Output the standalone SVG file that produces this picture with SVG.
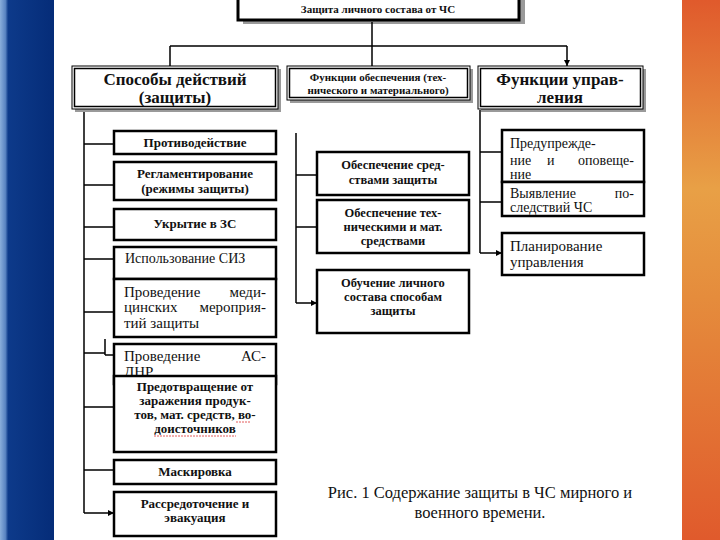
<svg xmlns="http://www.w3.org/2000/svg" width="720" height="540" viewBox="0 0 720 540">
<defs>
<linearGradient id="blue" x1="0" y1="0" x2="1" y2="0">
<stop offset="0" stop-color="#8aaedb"/><stop offset="0.1" stop-color="#5a84c2"/><stop offset="0.15" stop-color="#0d3a8a"/><stop offset="1" stop-color="#052c78"/>
</linearGradient>
<linearGradient id="orange" x1="0" y1="0" x2="0" y2="1">
<stop offset="0" stop-color="#e05a2c"/><stop offset="0.35" stop-color="#e8a046"/><stop offset="0.55" stop-color="#e58c3c"/><stop offset="1" stop-color="#e05a2c"/>
</linearGradient>
<marker id="ar" viewBox="0 0 8 8" refX="8" refY="4" markerWidth="6" markerHeight="6" orient="auto" markerUnits="userSpaceOnUse">
<path d="M0 0 L8 4 L0 8 Z" fill="#000"/>
</marker>
</defs>
<style>
.b{fill:#fff;stroke:#000;stroke-width:2.5}
.sh{fill:#9a9a9a}
.c{fill:none;stroke:#000;stroke-width:1.5}
text{font-family:'Liberation Serif','DejaVu Serif',serif;fill:#111}
.tb{font-weight:bold;font-size:13px;text-anchor:middle}
.tm{font-weight:bold;font-size:12.5px;text-anchor:middle}
.tn{font-size:15px}
.te{font-size:15px;text-anchor:end}
.tr{font-size:14px}
.tre{font-size:14px;text-anchor:end}
.th{font-weight:bold;font-size:17px;text-anchor:middle}
</style>
<rect width="720" height="540" fill="#fff"/>
<rect x="0" y="0" width="54" height="540" fill="url(#blue)"/>
<rect x="682" y="0" width="38" height="540" fill="url(#orange)"/>

<g id="top">
<rect class="sh" x="243" y="-6" width="282" height="30"/>
<rect x="238" y="-10" width="281" height="30" fill="#fff" stroke="#000" stroke-width="3"/>
<text class="tb" x="378" y="13" style="font-size:11px">Защита личного состава от ЧС</text>
</g>

<g id="connectors">
<path class="c" d="M372 22 V46 M170 46 H567 M84 110 V513 M296 133 V303 M480 110 V253"/>
<path class="c" marker-end="url(#ar)" d="M170 46 V66 M372 46 V66 M567 46 V66"/>
<path class="c" marker-end="url(#ar)" d="M84 144 H114 M84 185 H114 M84 227 H114 M84 259 H114 M84 312 H114 M105 355 H114 M84 407 H114 M84 470 H114 M84 513 H114"/>
<path class="c" d="M84 353 H105 M105 339 V355"/>
<path class="c" marker-end="url(#ar)" d="M296 175 H317 M296 227 H317 M296 303 H317"/>
<path class="c" marker-end="url(#ar)" d="M480 152 H502 M480 202 H502 M480 253 H502"/>
</g>

<g id="h1">
<rect class="sh" x="75" y="69" width="206" height="43"/>
<rect x="72" y="66" width="206" height="43" fill="#fff" stroke="#000" stroke-width="1"/>
<rect x="74.5" y="68.5" width="201" height="38" fill="none" stroke="#000" stroke-width="1.5"/>
<text class="th" x="175" y="85">Способы действий</text>
<text class="th" x="175" y="103">(защиты)</text>
</g>
<g id="h2">
<rect class="sh" x="290" y="69" width="183" height="34"/>
<rect x="287" y="66" width="183" height="34" fill="#fff" stroke="#000" stroke-width="1"/>
<rect x="289.5" y="68.5" width="178" height="29" fill="none" stroke="#000" stroke-width="1.5"/>
<text class="tb" x="378" y="81" style="font-size:11px">Функции обеспечения (тех-</text>
<text class="tb" x="378" y="94" style="font-size:11px">нического и материального)</text>
</g>
<g id="h3">
<rect class="sh" x="481" y="69" width="165" height="43"/>
<rect x="478" y="66" width="165" height="43" fill="#fff" stroke="#000" stroke-width="1"/>
<rect x="480.5" y="68.5" width="160" height="38" fill="none" stroke="#000" stroke-width="1.5"/>
<text class="th" x="560" y="85">Функции управ-</text>
<text class="th" x="560" y="103">ления</text>
</g>

<g id="l1"><rect class="b" x="114" y="131" width="162" height="23"/><text class="tb" x="195" y="147">Противодействие</text></g>
<g id="l2"><rect class="b" x="114" y="162" width="162" height="38"/><text class="tb" x="195" y="178">Регламентирование</text><text class="tb" x="195" y="193">(режимы защиты)</text></g>
<g id="l3"><rect class="b" x="114" y="209" width="162" height="31"/><text class="tb" x="195" y="228">Укрытие в ЗС</text></g>
<g id="l4"><rect class="b" x="114" y="247" width="162" height="32"/><text class="tn" x="125" y="263" style="font-size:14px">Использование СИЗ</text></g>
<g id="l5"><rect class="b" x="114" y="279" width="162" height="58"/>
<text class="tn" x="124" y="297">Проведение</text><text class="te" x="266" y="297">меди-</text>
<text class="tn" x="124" y="312">цинских</text><text class="te" x="266" y="312">мероприя-</text>
<text class="tn" x="124" y="328">тий защиты</text></g>
<g id="l6"><rect class="b" x="114" y="344" width="162" height="40"/>
<text class="tn" x="124" y="361">Проведение</text><text class="te" x="266" y="361">АС-</text>
<text class="tn" x="124" y="377">ДНР</text></g>
<g id="l7"><rect class="b" x="114" y="376" width="162" height="76"/>
<text class="tb" x="195" y="391">Предотвращение от</text>
<text class="tb" x="195" y="405">заражения продук-</text>
<text class="tb" x="195" y="419">тов, мат. средств, во-</text>
<text class="tb" x="195" y="433">доисточников</text>
<path d="M236 422 h14 M154 436 h82" fill="none" stroke="#d33" stroke-width="0.8" stroke-dasharray="2 1"/></g>
<g id="l8"><rect class="b" x="114" y="460" width="162" height="24"/><text class="tb" x="195" y="476">Маскировка</text></g>
<g id="l9"><rect class="b" x="114" y="492" width="162" height="44"/><text class="tb" x="195" y="508">Рассредоточение и</text><text class="tb" x="195" y="522">эвакуация</text></g>

<g id="m1"><rect class="b" x="317" y="152" width="152" height="43"/><text class="tm" x="393" y="169">Обеспечение сред-</text><text class="tm" x="393" y="184">ствами защиты</text></g>
<g id="m2"><rect class="b" x="317" y="200" width="152" height="53"/><text class="tm" x="393" y="217">Обеспечение тех-</text><text class="tm" x="393" y="231">ническими и мат.</text><text class="tm" x="393" y="245">средствами</text></g>
<g id="m3"><rect class="b" x="317" y="270" width="152" height="63"/><text class="tm" x="393" y="287">Обучение личного</text><text class="tm" x="393" y="301">состава способам</text><text class="tm" x="393" y="315">защиты</text></g>

<g id="r1"><rect class="b" x="502" y="130" width="142" height="52"/>
<text class="tr" x="510" y="148">Предупрежде-</text>
<text class="tr" x="510" y="165">ние</text><text class="tr" x="547" y="165">и</text><text class="tre" x="634" y="165">оповеще-</text>
<text class="tr" x="510" y="179">ние</text></g>
<g id="r2"><rect class="b" x="502" y="182" width="142" height="34"/>
<text class="tr" x="510" y="198">Выявление</text><text class="tre" x="634" y="198">по-</text>
<text class="tr" x="510" y="212">следствий ЧС</text></g>
<g id="r3"><rect class="b" x="502" y="233" width="142" height="42"/>
<text class="tr" x="510" y="251" style="font-size:15px">Планирование</text>
<text class="tr" x="510" y="267" style="font-size:15px">управления</text></g>

<text class="tn" x="480" y="498" text-anchor="middle" style="font-size:16.5px">Рис. 1 Содержание защиты в ЧС мирного и</text>
<text class="tn" x="480" y="518" text-anchor="middle" style="font-size:16.5px">военного времени.</text>
</svg>
